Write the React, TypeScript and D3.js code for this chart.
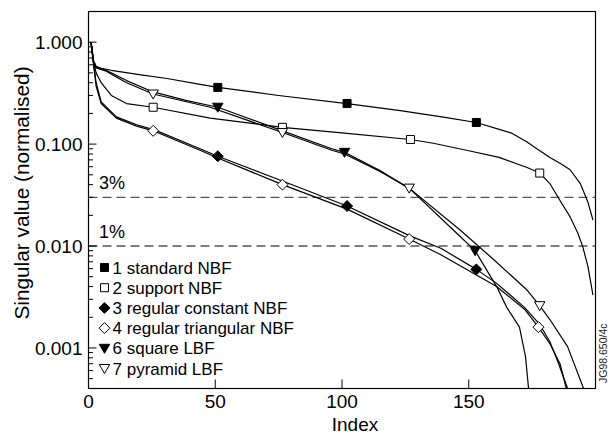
import { useRef, useEffect } from "react";
import * as d3 from "d3";

// [index, normalised singular value]
const standardNBF = [
  [1, 1.0], [2, 0.66], [3, 0.58], [5, 0.555], [9, 0.53], [20, 0.48], [31, 0.44], [44, 0.385],
  [51, 0.36], [75, 0.3], [102, 0.25], [123, 0.213], [140, 0.184], [153, 0.163], [163, 0.137],
  [167, 0.128], [173, 0.105], [176, 0.093], [182, 0.074], [186, 0.065], [190, 0.056],
  [194, 0.041], [197, 0.027], [199, 0.018]
];
const standardMarks = [[51, 0.36], [102, 0.25], [153, 0.163]];

const supportNBF = [
  [1, 1.0], [2, 0.64], [3, 0.5], [5, 0.4], [9, 0.3], [15, 0.25], [25.5, 0.23], [48, 0.18],
  [76.5, 0.146], [101, 0.128], [127, 0.111], [136, 0.102], [150, 0.086], [162, 0.074],
  [173, 0.059], [178, 0.052], [182, 0.041], [186, 0.028], [190, 0.0193], [193, 0.0134],
  [195, 0.0098], [197, 0.0063], [199, 0.0033]
];
const supportMarks = [[25.5, 0.23], [76.5, 0.146], [127, 0.111], [178, 0.052]];

const regConstNBF = [
  [1, 1.0], [2, 0.62], [3, 0.4], [5, 0.26], [11, 0.185], [19, 0.155], [26, 0.138], [44, 0.09],
  [51, 0.076], [77, 0.043], [102, 0.0247], [127, 0.0125], [139, 0.0095], [153, 0.0059],
  [161, 0.0043], [172, 0.0025], [178, 0.0017], [182, 0.00115], [185, 0.00075], [189, 0.0004]
];
const regConstMarks = [[51, 0.076], [102, 0.0247], [153, 0.0059]];

const regTriNBF = [
  [1, 1.0], [2, 0.6], [3, 0.37], [5, 0.25], [11, 0.18], [19, 0.15], [25.5, 0.135], [44, 0.087],
  [51, 0.073], [76.5, 0.04], [102, 0.023], [126.5, 0.0117], [139, 0.0082], [153, 0.0052],
  [161, 0.004], [172, 0.0024], [177.5, 0.0016], [182, 0.0011], [186, 0.0007], [188.5, 0.0004]
];
const regTriMarks = [[25.5, 0.135], [76.5, 0.04], [126.5, 0.0117], [177.5, 0.0016]];

const squareLBF = [
  [1, 1.0], [2, 0.63], [3, 0.57], [7, 0.53], [15, 0.42], [25.5, 0.325], [38, 0.27], [51, 0.23],
  [76.5, 0.135], [96, 0.09], [101, 0.083], [115, 0.055], [127, 0.036], [144, 0.0143],
  [152.5, 0.009], [161, 0.004], [165, 0.0025], [170, 0.0016], [172.4, 0.00082], [173.6, 0.0004]
];
const squareMarks = [[51, 0.23], [101, 0.083], [152.5, 0.009]];

const pyramidLBF = [
  [1, 1.0], [2, 0.62], [3, 0.56], [7, 0.52], [15, 0.4], [25.5, 0.31], [48, 0.23], [76.5, 0.13],
  [96, 0.087], [101, 0.08], [115, 0.054], [126.5, 0.037], [146.7, 0.0143], [160, 0.0073],
  [173, 0.0037], [178, 0.0026], [182, 0.0019], [189, 0.00103], [195.3, 0.0004]
];
const pyramidMarks = [[25.5, 0.31], [76.5, 0.13], [126.5, 0.037], [178, 0.0026]];

const legendLabels = [
  "1 standard NBF",
  "2 support NBF",
  "3 regular constant NBF",
  "4 regular triangular NBF",
  "6 square LBF",
  "7 pyramid LBF"
];
const markerShapes = ["square", "square", "diamond", "diamond", "triangle", "triangle"];
const markerFilled = [true, false, true, false, true, false];

const xTicks = [0, 50, 100, 150];
const yMajor = [1, 0.1, 0.01, 0.001];
const thresholdValues = [0.03, 0.01];
const thresholdLabels = ["3%", "1%"];

function markerPath(shape) {
  if (shape === "square") return "M-4,-4H4V4H-4Z";
  if (shape === "diamond") return "M0,-5.5L5.5,0L0,5.5L-5.5,0Z";
  return "M-5.2,-4L5.2,-4L0,5Z";
}

export default function App() {
  const ref = useRef(null);

  useEffect(() => {
    const svg = d3.select(ref.current);
    svg.selectAll("*").remove();

    const width = 611;
    const height = 434;
    const left = 88.5, right = 595.5, top = 11.5, bottom = 388.5;
    const font = "'Liberation Sans', Arial, sans-serif";

    svg.attr("width", width).attr("height", height);

    const x = d3.scaleLinear().domain([0, 200]).range([left, right]);
    const y = d3.scaleLog().domain([0.0004, 2]).range([bottom, top]);

    svg.append("rect").attr("width", width).attr("height", height).attr("fill", "#fff");

    svg.append("clipPath").attr("id", "plotclip")
      .append("rect")
      .attr("x", left).attr("y", top)
      .attr("width", right - left).attr("height", bottom - top);

    // threshold lines
    thresholdValues.forEach((v, i) => {
      svg.append("line")
        .attr("x1", left).attr("x2", right)
        .attr("y1", y(v)).attr("y2", y(v))
        .attr("stroke", "#555")
        .attr("stroke-width", 1.3)
        .attr("stroke-dasharray", "9,5");
      svg.append("text")
        .attr("x", left + 10.5)
        .attr("y", y(v) - 8)
        .attr("font-family", font)
        .attr("font-size", 18)
        .text(thresholdLabels[i]);
    });

    const series = [
      { pts: standardNBF, marks: standardMarks },
      { pts: supportNBF, marks: supportMarks },
      { pts: regConstNBF, marks: regConstMarks },
      { pts: regTriNBF, marks: regTriMarks },
      { pts: squareLBF, marks: squareMarks },
      { pts: pyramidLBF, marks: pyramidMarks }
    ];

    const line = d3.line().x(d => x(d[0])).y(d => y(d[1]));
    const plot = svg.append("g").attr("clip-path", "url(#plotclip)");

    series.forEach(s => {
      plot.append("path")
        .attr("d", line(s.pts))
        .attr("fill", "none")
        .attr("stroke", "#000")
        .attr("stroke-width", 1.2)
        .attr("stroke-linejoin", "round");
    });

    series.forEach((s, i) => {
      plot.selectAll(null)
        .data(s.marks)
        .enter()
        .append("path")
        .attr("transform", d => `translate(${x(d[0])},${y(d[1])})`)
        .attr("d", markerPath(markerShapes[i]))
        .attr("fill", markerFilled[i] ? "#000" : "#fff")
        .attr("stroke", "#000")
        .attr("stroke-width", 1);
    });

    // frame
    svg.append("rect")
      .attr("x", left).attr("y", top)
      .attr("width", right - left).attr("height", bottom - top)
      .attr("fill", "none")
      .attr("stroke", "#000")
      .attr("stroke-width", 1.2);

    // y ticks (log, inward)
    const minor = [];
    [0.0001, 0.001, 0.01, 0.1, 1].forEach(dec => {
      for (let k = 2; k <= 9; k++) {
        const v = dec * k;
        if (v >= 0.0004 && v <= 2) minor.push(v);
      }
    });
    minor.forEach(v => {
      svg.append("line")
        .attr("x1", left).attr("x2", left + 4.5)
        .attr("y1", y(v)).attr("y2", y(v))
        .attr("stroke", "#000").attr("stroke-width", 1);
    });
    yMajor.forEach(v => {
      svg.append("line")
        .attr("x1", left).attr("x2", left + 8)
        .attr("y1", y(v)).attr("y2", y(v))
        .attr("stroke", "#000").attr("stroke-width", 1);
      svg.append("text")
        .attr("x", left - 6)
        .attr("y", y(v) + 7)
        .attr("text-anchor", "end")
        .attr("font-family", font)
        .attr("font-size", 19)
        .text(d3.format(".3f")(v));
    });

    // x ticks (inward)
    xTicks.forEach(t => {
      svg.append("line")
        .attr("x1", x(t)).attr("x2", x(t))
        .attr("y1", bottom).attr("y2", bottom - 9)
        .attr("stroke", "#000").attr("stroke-width", 1);
      svg.append("text")
        .attr("x", x(t))
        .attr("y", 408)
        .attr("text-anchor", "middle")
        .attr("font-family", font)
        .attr("font-size", 19)
        .text(t);
    });

    svg.append("text")
      .attr("x", 355)
      .attr("y", 431)
      .attr("text-anchor", "middle")
      .attr("font-family", font)
      .attr("font-size", 19)
      .text("Index");

    svg.append("text")
      .attr("transform", "translate(29,193) rotate(-90)")
      .attr("text-anchor", "middle")
      .attr("font-family", font)
      .attr("font-size", 20.8)
      .text("Singular value (normalised)");

    // legend
    legendLabels.forEach((label, i) => {
      const by = 273.5 + i * 20.2;
      svg.append("path")
        .attr("transform", `translate(104.5,${by - 6})`)
        .attr("d", markerPath(markerShapes[i]))
        .attr("fill", markerFilled[i] ? "#000" : "#fff")
        .attr("stroke", "#000")
        .attr("stroke-width", 1);
      svg.append("text")
        .attr("x", 112.5)
        .attr("y", by)
        .attr("font-family", font)
        .attr("font-size", 17)
        .text(label);
    });

    svg.append("text")
      .attr("transform", "translate(607,383) rotate(-90)")
      .attr("font-family", font)
      .attr("font-size", 10.5)
      .attr("fill", "#222")
      .text("JG98.650/4c");
  }, []);

  return <svg ref={ref} style={{ position: "absolute", left: 0, top: 0 }}></svg>;
}
